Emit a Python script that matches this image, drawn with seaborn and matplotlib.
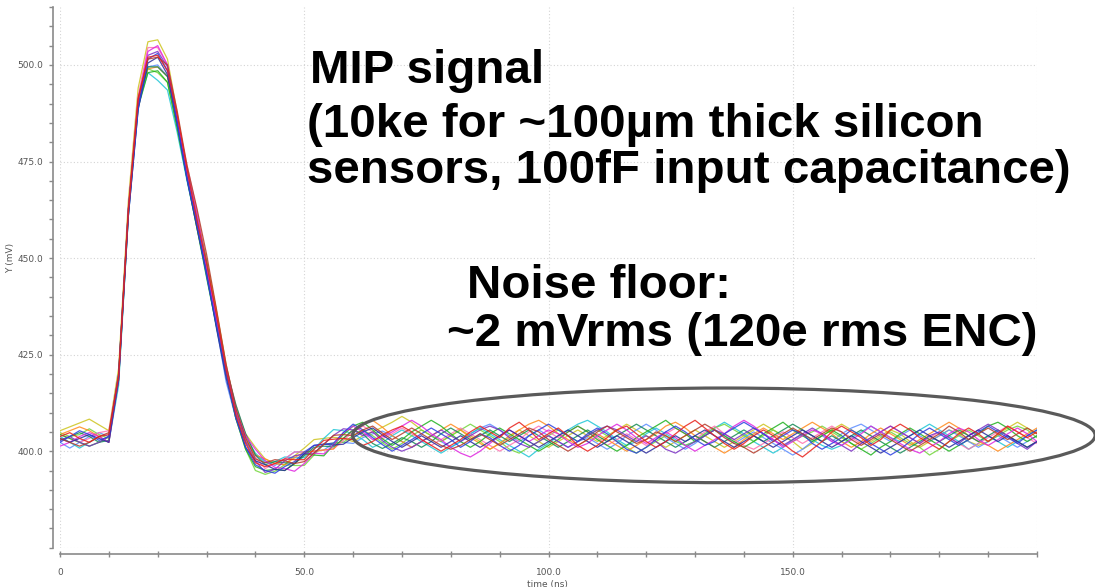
import numpy as np
import pandas as pd
import matplotlib
matplotlib.use("Agg")
import matplotlib.pyplot as plt
from matplotlib.patches import Ellipse
from matplotlib.ticker import MultipleLocator, FixedLocator, FixedFormatter
import seaborn as sns

# ---------------- data ----------------
time_ns = np.arange(0, 201, 2)  # sample times, ns

# mean pulse shape (mV), one value per sample time
pulse = [403.3, 403.3, 403.3, 403.3, 403.3, 403.3,
         419.0, 462.0, 490.0, 500.5, 501.5, 498.0, 485.5, 472.0, 460.0, 447.5,
         434.0, 420.5, 410.0, 403.0, 398.5, 396.5, 396.3, 397.0, 397.8, 398.8,
         400.0, 401.3, 402.6, 403.8,
         404.5, 404.5, 404.0, 403.7,
         403.5, 403.5, 403.5, 403.5, 403.5, 403.5, 403.5, 403.5, 403.5, 403.5,
         403.5, 403.5, 403.5, 403.5, 403.5, 403.5, 403.5, 403.5, 403.5, 403.5,
         403.5, 403.5, 403.5, 403.5, 403.5, 403.5, 403.5, 403.5, 403.5, 403.5,
         403.5, 403.5, 403.5, 403.5, 403.5, 403.5, 403.5, 403.5, 403.5, 403.5,
         403.5, 403.5, 403.5, 403.5, 403.5, 403.5, 403.5, 403.5, 403.5, 403.5,
         403.5, 403.5, 403.5, 403.5, 403.5, 403.5, 403.5, 403.5, 403.5, 403.5,
         403.5, 403.5, 403.5, 403.5, 403.5, 403.5, 403.5]

# per-run deviations from the mean pulse (mV)
dev_red = [0.5, 1.5, 0.0, -1.0, 0.5, 1.0, 0.5, 0.0, 1.0, 1.5,
           1.0, 0.5, 1.5, 1.0, 0.0, 1.0, 1.5, 0.5, -0.5, -1.0,
           -1.5, -0.5, 0.5, 1.0, 0.0, -1.0, 0.5, 1.5, 0.5, -0.5,
           -1.5, -3.0, -1.5, 0.5, 2.0, 3.0, 1.5, -0.5, -2.0, -3.5,
           -2.0, -0.5, 1.5, 3.0, 1.5, 0.0, 2.5, 4.0, 2.0, -0.5,
           1.0, 2.5, 0.5, -2.0, -3.5, -2.0, 0.0, 2.0, 3.0, 1.0,
           -1.0, -2.5, -1.0, 1.0, 3.0, 4.5, 2.5, 0.5, -1.5, -3.0,
           -1.5, 0.5, 2.0, 0.5, -1.5, -3.5, -5.0, -3.0, -1.0, 1.5,
           3.0, 1.5, 0.0, -2.0, -0.5, 2.0, 3.5, 2.0, 0.0, -1.5,
           -3.0, -1.0, 1.0, 2.5, 1.0, -1.0, 1.0, 3.0, 1.5, 0.0,
           1.5]
dev_blue = [-1.0, 0.5, 2.0, 1.0, -0.5, 0.5, -0.5, -1.0, -1.5, 1.0,
            1.5, 0.5, -0.5, -1.5, -1.0, -2.0, -1.0, -0.5, -1.5, -2.0,
            -2.0, -1.5, -2.0, -1.0, -0.5, 1.0, 1.5, 0.5, -0.5, 1.0,
            2.5, 1.0, -0.5, -2.0, -3.5, -2.0, -0.5, 1.0, 2.5, 1.0,
            -0.5, -2.5, -1.0, 1.0, 0.0, -2.0, -3.5, -2.0, 0.5, 2.0,
            3.5, 2.0, 0.5, -1.0, 1.0, 2.5, 1.0, -1.0, -3.0, -4.0,
            -2.5, -0.5, 1.5, 3.0, 1.5, -0.5, -2.0, -1.0, 1.0, 2.5,
            4.0, 2.5, 1.0, -1.0, 0.5, 2.0, 1.0, -1.5, -3.0, -1.5,
            0.0, 2.0, 0.5, -1.5, -3.0, -4.5, -3.0, -1.0, 1.0, 2.5,
            1.0, -0.5, -2.0, -0.5, 1.5, 3.0, 1.5, 0.0, -1.5, 0.5,
            2.0]
dev_green = [1.0, 0.0, -1.0, -2.0, -1.0, 0.5, 1.0, 0.5, -1.0, -2.5,
             -3.0, -2.5, -2.0, -1.5, -2.0, -2.5, -1.5, -0.5, -1.5, -2.5,
             -2.5, -1.5, -1.0, -2.0, -1.0, 0.5, -1.0, -2.5, -1.0, 0.5,
             2.0, 3.0, 1.5, -0.5, -2.0, -0.5, 1.5, 3.0, 4.5, 3.0,
             1.0, -1.0, -2.5, -1.0, 1.0, 2.5, 1.0, -0.5, -2.0, -3.5,
             -2.0, -0.5, 1.5, 3.0, 1.5, -0.5, -2.0, -3.5, -2.0, 0.0,
             1.5, 3.0, 4.5, 2.5, 1.0, -1.0, 0.5, 2.0, 0.5, -1.0,
             -2.5, -1.0, 1.0, 2.5, 4.0, 2.0, 0.5, -1.0, 0.5, 2.0,
             0.5, -1.5, -3.0, -4.5, -2.5, -1.0, 1.0, 2.5, 1.0, -0.5,
             -2.0, -3.5, -2.0, -0.5, 1.0, 3.0, 4.0, 2.5, 0.5, -1.0,
             0.5]
dev_magenta = [-2.0, -1.0, 0.5, 1.5, 0.5, -1.0, -0.5, 0.5, 1.0, 3.0,
               3.5, 2.0, 1.0, 0.5, 1.5, 0.5, 0.0, 1.0, 0.5, 1.0,
               2.0, 1.0, -0.5, -1.5, -3.0, -2.0, -0.5, -2.0, -1.0, 1.0,
               2.0, 0.5, -1.0, 0.0, 1.5, 3.0, 4.5, 3.0, 1.0, -0.5,
               -2.5, -4.0, -5.0, -3.5, -1.5, 0.5, 2.0, 0.5, -1.0, 0.5,
               2.0, 1.0, -1.0, -2.5, -1.5, 0.5, 2.0, 3.5, 2.0, 0.0,
               -1.5, 0.0, 1.5, 0.0, -2.0, -3.5, -2.0, -0.5, 1.0, 3.0,
               4.5, 3.0, 1.0, -0.5, -2.5, -1.0, 0.5, 2.0, 1.0, -1.0,
               -2.0, -0.5, 1.0, 3.0, 1.5, 0.0, -1.5, -3.0, -4.0, -2.5,
               -1.0, 1.0, 2.5, 1.5, -0.5, -2.0, -0.5, 1.0, 2.5, 1.0,
               -1.0]
dev_cyan = [0.5, -1.0, -2.5, -1.0, 0.5, -1.0, -2.0, -1.0, -0.5, -2.5,
            -5.5, -4.5, -3.0, -2.0, -1.5, -2.0, -1.5, -0.5, 0.0, 0.5,
            1.0, 0.5, 1.0, 1.5, 0.5, -0.5, 0.5, 2.0, 3.0, 1.5,
            0.0, -1.5, -3.0, -1.5, 0.5, 2.0, 0.5, -1.0, -2.5, -4.0,
            -2.5, -1.0, 1.0, 2.5, 1.0, -0.5, -2.0, -3.5, -5.0, -3.0,
            -1.5, 0.5, 2.0, 3.5, 4.5, 3.0, 1.5, -0.5, -2.0, -1.0,
            1.0, 2.5, 1.0, -0.5, -2.0, -1.0, 1.0, 2.5, 4.0, 2.5,
            1.0, -1.0, -2.5, -4.0, -2.5, -0.5, 1.0, -0.5, -2.0, -3.0,
            -2.0, 0.0, 1.5, 3.0, 1.5, 0.0, -1.0, 0.5, 2.0, 3.5,
            2.0, 0.5, -1.0, -3.0, -1.5, 0.5, -1.0, -2.5, -1.0, 0.5,
            2.0]
dev_orange = [1.0, 2.0, 3.0, 2.0, 0.5, -1.0, 0.5, -0.5, 1.0, -1.5,
              -2.0, -1.0, -0.5, 0.5, 1.0, 2.0, 2.5, 1.5, 1.0, 0.0,
              0.5, 1.5, 0.5, -0.5, 0.5, 1.0, 0.0, -1.0, -2.0, -0.5,
              1.0, 2.5, 4.0, 2.5, 0.5, -1.0, -2.5, -1.0, 0.5, 2.0,
              3.5, 2.0, 0.0, -1.5, -3.0, -1.5, 0.5, 2.0, 3.5, 4.5,
              3.0, 1.0, -0.5, -2.0, -0.5, 1.0, -0.5, -2.0, -3.5, -2.0,
              -0.5, 1.0, 3.0, 4.0, 2.5, 0.5, -1.0, -2.5, -4.0, -2.5,
              -0.5, 1.0, 2.5, 1.0, -0.5, 1.0, 2.5, 4.0, 2.5, 1.0,
              -1.0, -2.5, -1.0, 1.0, 2.5, 1.0, -0.5, -2.0, -0.5, 1.0,
              2.5, 4.0, 2.5, 0.5, -1.0, -2.0, -3.5, -2.0, -0.5, 1.0,
              2.5]
dev_olive = [2.0, 3.0, 4.0, 5.0, 3.5, 2.0, 2.5, 3.0, 4.0, 5.5,
             5.0, 3.5, 2.0, 1.0, 1.0, 2.0, 2.5, 2.0, 1.0, 1.5,
             2.5, 1.5, 0.5, -0.5, 1.0, 2.0, 3.0, 2.0, 1.0, -0.5,
             -2.0, -0.5, 1.0, 2.5, 4.0, 5.5, 4.0, 2.0, 0.5, -1.0,
             0.5, 2.0, 0.5, -1.0, -3.0, -1.5, 0.0, 2.0, 0.5, -1.0,
             -2.5, -1.0, 0.5, 2.0, 0.5, -1.0, 0.5, 2.0, 3.5, 2.0,
             0.5, -1.0, -2.5, -1.0, 0.5, 2.0, 0.5, -1.0, -2.5, -1.0,
             0.5, 2.0, 3.5, 2.0, 0.5, -1.0, -3.0, -1.5, 0.5, 2.0,
             3.5, 2.0, 0.5, -1.0, 0.5, 2.0, 1.0, -1.0, -2.5, -1.0,
             0.5, 2.0, 1.0, -1.0, -2.0, -1.0, 1.0, 2.5, 4.0, 2.5,
             1.0]
dev_purple = [-0.5, 0.5, -1.0, -2.0, -1.0, 0.5, 1.0, 0.5, 0.0, 2.0,
              2.0, 1.5, 0.5, -0.5, -1.0, -0.5, 0.5, 1.0, 0.5, -0.5,
              -1.0, -2.0, -1.0, 0.5, 1.0, 0.5, -0.5, 0.5, 1.5, 2.0,
              1.0, -0.5, 1.0, -1.0, -2.5, -3.5, -2.5, -1.0, 0.5, 2.0,
              0.5, -1.0, 0.5, 2.0, 3.0, 2.0, 0.0, -1.5, -2.5, -1.0,
              0.5, -1.0, -2.5, -1.0, 0.5, 2.0, 3.0, 2.0, 0.5, -1.0,
              0.5, -1.0, -3.0, -4.0, -2.5, -1.0, 0.5, 2.0, 1.0, -0.5,
              1.0, 2.5, 1.0, -0.5, -2.0, -0.5, 1.0, 2.5, 1.0, -0.5,
              -2.0, -3.5, -1.5, 0.0, 1.5, 3.0, 1.5, 0.0, -1.5, 0.5,
              1.5, 0.0, -1.5, 0.5, 2.0, 3.5, 2.0, 0.5, -1.5, -3.0,
              -1.0]
dev_brown = [0.0, -1.0, -2.0, -1.0, 0.5, 1.5, 0.5, 1.0, 1.5, 1.0,
             0.5, 2.0, 2.5, 2.0, 3.0, 3.5, 3.0, 2.0, 1.0, 0.5,
             -0.5, 0.5, 1.5, 0.5, -1.0, -1.5, -0.5, 0.5, 1.5, 0.5,
             -0.5, 1.0, 2.5, 1.0, -0.5, 1.0, 2.5, 1.0, -0.5, -2.0,
             -3.0, -2.0, -0.5, 1.0, -0.5, -2.0, -0.5, 1.0, 2.5, 1.5,
             -0.5, -2.0, -3.5, -2.0, -0.5, 1.5, 3.0, 1.5, 0.0, -1.5,
             -0.5, 1.5, 0.5, -1.0, 0.5, 2.0, 3.5, 2.0, 0.0, -1.5,
             -2.5, -4.0, -2.5, -1.0, 1.0, 2.5, 1.0, -0.5, 1.0, 2.5,
             1.5, -0.5, -2.0, -0.5, 1.0, -0.5, -2.0, -3.5, -2.0, -0.5,
             1.0, 3.0, 1.5, -0.5, 1.0, 2.5, 1.0, -0.5, 1.0, 2.5,
             1.0]
dev_lime = [1.5, 0.5, 1.0, 2.5, 1.0, 0.0, -1.0, -0.5, 0.5, -1.5,
            -3.5, -2.5, -1.5, -1.0, -2.0, -1.0, 0.0, -0.5, -1.5, -2.5,
            -3.5, -2.5, -1.5, -0.5, -1.5, -2.5, -1.0, 0.5, -0.5, -1.5,
            -0.5, 1.0, 0.0, -1.5, -3.0, -1.5, 0.5, 2.0, 0.5, -1.0,
            0.5, 2.0, 3.5, 2.0, 0.5, -1.0, -3.0, -4.0, -2.5, -1.0,
            0.5, 2.0, 0.5, -1.0, 0.5, 2.0, 0.5, -1.0, -2.5, -4.0,
            -2.5, -1.0, 0.5, -1.0, -2.0, -1.0, 1.0, 2.5, 3.5, 2.0,
            0.5, -1.0, 0.5, 2.0, 0.5, -1.0, 0.5, 1.5, 3.0, 1.5,
            0.0, -1.5, -3.0, -1.5, 0.0, 1.5, 0.0, -1.5, -2.5, -4.5,
            -3.0, -1.0, 0.5, 2.0, 0.5, -1.0, 0.5, 2.0, 3.0, 2.0,
            0.0]
dev_lightblue = [-1.0, -2.5, -1.0, 0.5, 1.5, 0.5, 1.0, 0.5, 0.0, -1.0,
                 -1.5, -1.0, 0.5, 1.0, 0.5, -0.5, -1.5, -2.5, -1.5, -0.5,
                 0.5, 1.0, 0.0, 1.0, 2.0, 1.0, 0.0, -1.0, -0.5, -1.5,
                 -2.5, -1.0, 0.5, 1.5, 0.5, -1.0, -2.5, -1.0, 0.5, -1.0,
                 -2.5, -1.0, 1.0, 2.5, 3.5, 2.0, 0.5, -1.0, 0.5, 2.0,
                 0.5, -1.0, -2.5, -1.0, 0.0, -1.5, -3.0, -1.5, 0.5, 2.0,
                 3.5, 2.0, 0.0, -1.5, -3.0, -1.5, 0.5, 2.0, 0.5, -1.5,
                 0.0, 1.5, 0.0, -1.5, -3.0, -4.5, -3.0, -1.0, 0.5, -1.0,
                 1.0, 2.5, 3.5, 2.0, 0.5, -1.0, 0.5, 2.0, 0.5, -1.0,
                 0.5, 2.0, 0.5, -1.0, -2.5, -1.0, 0.5, -1.0, -2.5, -1.0,
                 0.5]
dev_pink = [1.0, 0.0, -1.0, 0.0, 1.5, 2.0, 1.0, 1.5, 2.0, 4.0,
            3.0, 2.0, 1.0, 2.0, 2.5, 1.5, 0.5, 1.5, 2.0, 1.0,
            0.0, -1.0, 0.5, 1.0, 2.0, 1.0, 0.0, -1.0, -2.0, -1.0,
            0.5, 2.0, 1.0, -0.5, 1.0, 2.5, 1.0, -0.5, -2.0, -0.5,
            1.0, 2.5, 1.0, -0.5, -2.0, -3.5, -2.0, -0.5, 1.5, 3.0,
            1.5, 0.0, 1.5, 3.0, 1.5, 0.0, -2.0, -0.5, 1.0, -0.5,
            -2.0, -0.5, 1.0, 2.5, 1.0, -0.5, 1.5, 3.0, 1.0, -0.5,
            -2.0, -3.0, -1.5, 0.0, 1.5, 0.0, -1.5, 0.0, 1.5, 3.0,
            1.5, 0.0, -1.5, 0.0, 1.5, 3.0, 1.5, 0.0, -1.5, 0.0,
            1.5, 0.0, -1.5, -3.0, -1.5, 0.0, 1.5, 3.0, 1.5, 0.0,
            -1.5]
dev_darkgreen = [-0.5, 0.5, 1.5, 0.5, -1.0, -0.5, 0.0, 0.5, 0.0, -1.0,
                 -2.0, -1.0, 0.0, 1.0, 0.5, 1.5, 0.5, 1.0, 2.0, 1.5,
                 0.5, 0.0, 1.0, 0.0, -1.0, 0.0, 1.0, 0.0, -1.5, -0.5,
                 1.0, 0.0, -2.0, -3.0, -1.5, 0.0, -1.0, -2.5, -1.0, 1.0,
                 2.5, 1.0, -0.5, 0.5, 2.0, 0.5, -1.0, 0.5, 2.0, 0.5,
                 -1.0, -2.5, -1.0, 0.5, 2.0, 0.5, -1.0, 0.5, 2.0, 3.5,
                 2.0, 0.5, -1.0, -2.5, -1.0, 0.5, -1.0, -2.5, -1.0, 0.5,
                 2.0, 0.5, -1.0, 0.5, 2.0, 3.5, 2.0, 0.5, -1.0, 0.5,
                 -1.0, 0.5, 2.0, 0.5, -1.0, -2.5, -4.0, -2.5, -1.0, 0.5,
                 -1.0, 0.5, 2.0, 0.5, -1.0, 0.5, 2.0, 0.5, -1.0, -2.5,
                 -1.0]
dev_navy = [0.0, -1.0, 0.0, 1.0, 0.0, -1.0, -0.5, -1.0, -1.5, 0.0,
            0.5, -0.5, -1.0, -1.5, -2.0, -1.5, -2.0, -1.5, -1.0, -2.0,
            -1.0, 0.0, -1.0, -2.0, -1.0, 0.5, 1.5, 0.5, -1.0, -2.0,
            -1.0, 0.5, 2.0, 0.5, -1.0, -2.5, -1.0, 0.5, -1.0, -2.5,
            -1.0, 0.5, -1.0, -2.5, -1.0, 0.5, 2.0, 0.5, -1.0, -2.5,
            -1.0, 0.5, 2.0, 0.5, -1.0, -2.5, -1.0, 0.5, -1.0, -2.5,
            -4.0, -2.5, -1.0, 0.5, -1.0, 0.5, 2.0, 0.5, -1.0, -2.5,
            -1.0, 0.5, -1.0, -2.5, -1.0, 0.5, 2.0, 0.5, -1.0, -2.5,
            -1.0, 0.5, -1.0, -2.5, -4.0, -2.5, -1.0, 0.5, 2.0, 0.5,
            -1.0, -2.5, -1.0, 0.5, 2.0, 0.5, -1.0, 0.5, -1.0, -2.5,
            -1.0]

# draw order: red ends on top, as in the reference
runs = ["olive", "lightblue", "cyan", "lime", "pink", "orange", "darkgreen",
        "green", "purple", "magenta", "navy", "blue", "brown", "red"]
run_devs = {"red": dev_red, "blue": dev_blue, "green": dev_green,
            "magenta": dev_magenta, "cyan": dev_cyan, "orange": dev_orange,
            "olive": dev_olive, "purple": dev_purple, "brown": dev_brown,
            "lime": dev_lime, "lightblue": dev_lightblue, "pink": dev_pink,
            "darkgreen": dev_darkgreen, "navy": dev_navy}
run_colors = {"red": "#e8201a", "blue": "#2b3fe0", "green": "#1fb21f",
              "magenta": "#e024e0", "cyan": "#1ec6d6", "orange": "#ff8a1c",
              "olive": "#cdc41e", "purple": "#7b30c4", "brown": "#b43a2a",
              "lime": "#72d63a", "lightblue": "#5b8dff", "pink": "#ff72b0",
              "darkgreen": "#158a55", "navy": "#2c2c9c"}

y_major = [400, 425, 450, 475, 500]
y_major_labels = ["400.0", "425.0", "450.0", "475.0", "500.0"]
x_major = [0, 50, 100, 150]
x_major_labels = ["0", "50.0", "100.0", "150.0"]

# ---------------- build long table ----------------
rows = []
for name in runs:
    dev = run_devs[name]
    n = min(len(time_ns), len(pulse), len(dev))
    for i in range(n):
        rows.append((name, time_ns[i], pulse[i] + dev[i]))
df = pd.DataFrame(rows, columns=["run", "time", "V"])

# ---------------- figure ----------------
sns.set_style("white")
plt.rcParams["font.family"] = ["DejaVu Sans"]

W, H = 1095, 587
fig = plt.figure(figsize=(W / 100, H / 100), dpi=100)
ax = fig.add_axes([60 / W, 1 - 547.75 / H, 977 / W, 540.75 / H])

sns.lineplot(data=df, x="time", y="V", hue="run", hue_order=runs,
             palette=run_colors, estimator=None, legend=False,
             linewidth=0.9, alpha=0.85, ax=ax, sort=False)

ax.set_xlim(0, 200)
ax.set_ylim(375, 515)

# grid (dotted, light)
grid_kw = dict(color="#d4d4d4", linestyle=(0, (1, 2)), linewidth=0.8, zorder=0)
for yv in y_major + [375]:
    ax.axhline(yv, **grid_kw)
for xv in x_major + [200]:
    ax.axvline(xv, **grid_kw)

for s in ["top", "right"]:
    ax.spines[s].set_visible(False)
ax.spines["left"].set_position(("outward", 5))
ax.spines["bottom"].set_position(("outward", 4.3))
for s in ["left", "bottom"]:
    ax.spines[s].set_color("#8a8a8a")
    ax.spines[s].set_linewidth(1.2)
ax.spines["bottom"].set_bounds(0, 200)
ax.spines["left"].set_bounds(375, 515)

ax.xaxis.set_major_locator(FixedLocator(x_major))
ax.xaxis.set_major_formatter(FixedFormatter(x_major_labels))
ax.xaxis.set_minor_locator(MultipleLocator(10))
ax.yaxis.set_major_locator(FixedLocator(y_major))
ax.yaxis.set_major_formatter(FixedFormatter(y_major_labels))
ax.yaxis.set_minor_locator(MultipleLocator(5))

ax.tick_params(axis="x", which="both", direction="inout", length=5, width=1,
               color="#8a8a8a", labelsize=6.5, labelcolor="#555555", pad=8,
               bottom=True)
ax.tick_params(axis="y", which="both", direction="out", length=3, width=1,
               color="#8a8a8a", labelsize=6.5, labelcolor="#555555", pad=4,
               left=True)

ax.set_xlabel("time (ns)", fontsize=6.5, color="#555555")
ax.set_ylabel("Y (mV)", fontsize=6.5, color="#555555")
ax.xaxis.set_label_coords((547 - 60) / 977, -(580 - 547.75) / 540.75)
ax.yaxis.set_label_coords(-(60 - 15) / 977, (547.75 - 258) / 540.75)

# noise-floor ellipse
ax.add_patch(Ellipse((135.9, 404.1), 152, 24.5, facecolor="none",
                     edgecolor="#5a5a5a", linewidth=2.3, clip_on=False, zorder=5))

# annotations
tk = dict(fontsize=34.2, fontweight="bold", color="black",
          family=["Liberation Sans", "DejaVu Sans"], va="baseline", ha="left")
fig.text(310 / W, 1 - 83 / H, "MIP signal", **tk)
fig.text(307 / W, 1 - 137 / H, "(10ke for ~100\u00b5m thick silicon", **tk)
fig.text(307 / W, 1 - 183 / H, "sensors, 100fF input capacitance)", **tk)
fig.text(467 / W, 1 - 298 / H, "Noise floor:", **tk)
fig.text(447 / W, 1 - 346 / H, "~2 mVrms (120e rms ENC)", **tk)

fig.savefig("out.png", dpi=100)
